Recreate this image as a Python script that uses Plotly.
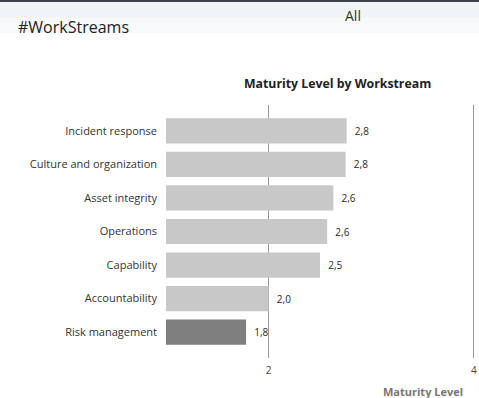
import plotly.graph_objects as go

# Workstream maturity scores (top to bottom as listed)
workstreams = [
    "Incident response",
    "Culture and organization",
    "Asset integrity",
    "Operations",
    "Capability",
    "Accountability",
    "Risk management",
]
maturity = [2.76, 2.75, 2.63, 2.57, 2.50, 2.00, 1.78]
highlight = "Risk management"

x_ticks = [2, 4]
x_range = [1, 4.02]

W, H = 479, 398
L, R, T, B = 166, 3, 105, 40


def px_x(p):
    return (p - L) / (W - L - R)


def px_y(p):
    return (H - B - p) / (H - T - B)


bar_colors = ["#7f7f7f" if w == highlight else "#c8c8c8" for w in workstreams]

fig = go.Figure(
    go.Bar(
        x=maturity,
        y=workstreams,
        orientation="h",
        marker=dict(color=bar_colors, line=dict(width=0)),
        texttemplate="  %{x:.1f}",
        textposition="outside",
        textfont=dict(family="Open Sans", size=10, color="#2a2a2a"),
        cliponaxis=False,
        hoverinfo="skip",
    )
)

n = len(workstreams)
fig.update_layout(
    width=W,
    height=H,
    margin=dict(l=L, r=R, t=T, b=B),
    paper_bgcolor="white",
    plot_bgcolor="white",
    separators=",.",
    bargap=0.25,
    showlegend=False,
    xaxis=dict(
        range=x_range,
        tickvals=x_ticks,
        ticktext=[str(v) for v in x_ticks],
        showgrid=True,
        gridcolor="#9a9a9a",
        gridwidth=1,
        zeroline=False,
        showline=False,
        ticks="",
        ticklabelstandoff=5,
        tickfont=dict(family="Open Sans", size=10, color="#444444"),
        fixedrange=True,
    ),
    yaxis=dict(
        type="category",
        categoryorder="array",
        categoryarray=workstreams,
        range=[n - 1 + 0.77, -0.77],
        showgrid=False,
        zeroline=False,
        showline=False,
        ticks="",
        ticklabelstandoff=8,
        tickfont=dict(family="Open Sans", size=11, color="#333333"),
        fixedrange=True,
    ),
    shapes=[
        # header band
        dict(type="rect", xref="paper", yref="paper",
             x0=px_x(0), x1=px_x(W), y0=px_y(2), y1=px_y(0),
             fillcolor="#3c424b", line=dict(width=0), layer="below"),
        dict(type="rect", xref="paper", yref="paper",
             x0=px_x(0), x1=px_x(W), y0=px_y(18), y1=px_y(2),
             fillcolor="#f1f4f7", line=dict(width=0), layer="below"),
        dict(type="rect", xref="paper", yref="paper",
             x0=px_x(0), x1=px_x(W), y0=px_y(33), y1=px_y(18),
             fillcolor="#f8f9fb", line=dict(width=0), layer="below"),
    ],
    annotations=[
        dict(text="#WorkStreams", xref="paper", yref="paper",
             x=px_x(16), y=px_y(27), xanchor="left", yanchor="middle",
             showarrow=False,
             font=dict(family="Open Sans", size=16, color="#222222")),
        dict(text="All", xref="paper", yref="paper",
             x=px_x(353), y=px_y(15), xanchor="center", yanchor="middle",
             showarrow=False,
             font=dict(family="Open Sans", size=14, color="#333333")),
        dict(text="<b>Maturity Level by Workstream</b>", xref="paper", yref="paper",
             x=px_x(337), y=px_y(83), xanchor="center", yanchor="middle",
             showarrow=False,
             font=dict(family="Open Sans", size=12.3, color="#222222")),
        dict(text="<b>Maturity Level</b>", xref="paper", yref="paper",
             x=px_x(423), y=px_y(391), xanchor="center", yanchor="middle",
             showarrow=False,
             font=dict(family="Open Sans", size=11, color="#777777")),
    ],
)

fig.write_html("out.html", config={"displayModeBar": False})
